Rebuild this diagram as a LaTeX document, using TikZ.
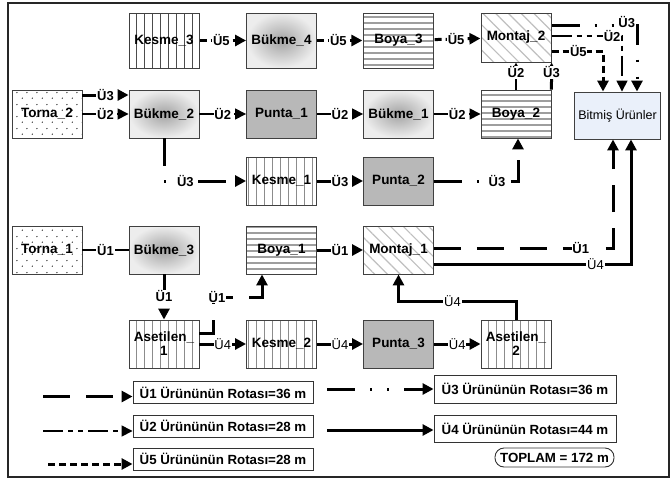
\documentclass[tikz,border=0pt]{standalone}
\usepackage{fontspec}
\setmainfont{Liberation Sans}
\usetikzlibrary{arrows.meta,patterns.meta,calc}

% sparse staggered dots for the lathe stations
\pgfdeclarepattern{
  name=sparsedots, type=uncolored,
  bottom left={\pgfpoint{0pt}{0pt}}, top right={\pgfpoint{10pt}{12pt}},
  tile size={\pgfpoint{10pt}{12pt}},
  code={\pgfpathcircle{\pgfpoint{2.5pt}{3pt}}{0.75pt}
        \pgfpathcircle{\pgfpoint{7.5pt}{9pt}}{0.75pt}\pgfusepath{fill}}
}

\tikzset{
  stn/.style={draw=black!75, line width=0.9pt, minimum width=70pt, minimum height=48pt,
    inner sep=0pt, align=center, font=\bfseries\fontsize{13.5}{14}\selectfont},
  kesme/.style={stn, pattern={Lines[angle=90,distance=8pt,line width=1pt]}, pattern color=black!45},
  boya/.style={stn, pattern={Lines[angle=0,distance=6pt,line width=2.2pt]}, pattern color=black!38},
  montaj/.style={stn, pattern={Lines[angle=-45,distance=9pt,line width=1.2pt]}, pattern color=black!25},
  bukme/.style={stn, inner color=black!36, outer color=black!7},
  punta/.style={stn, fill=black!28},
  torna/.style={stn, pattern=sparsedots, pattern color=black!85},
  bitmis/.style={draw=black!75, line width=0.9pt, minimum width=85pt, minimum height=47pt,
    fill={rgb,255:red,234;green,240;blue,250}, font=\fontsize{12.5}{14}\selectfont},
  lgbox/.style={draw=black!80, line width=0.9pt, fill=white, inner sep=0pt,
    font=\bfseries\fontsize{13.3}{14}\selectfont},
  lab/.style={fill=white, inner sep=0.8pt, font=\bfseries\fontsize{13}{13}\selectfont},
  labn/.style={fill=white, inner sep=0.8pt, font=\fontsize{13}{13}\selectfont},
  arr/.style={-{Triangle[length=11pt,width=11pt]}},
  sarr/.style={-{Triangle[length=5pt,width=5pt]}},
  u1/.style={line width=3pt, dash pattern=on 27pt off 16pt},
  u1thin/.style={line width=1.2pt},
  u2/.style={line width=1.5pt, dash pattern=on 20pt off 5pt on 5pt off 5pt on 5pt off 5pt},
  u3/.style={line width=3pt, dash pattern=on 28pt off 15pt on 2pt off 15pt on 2pt off 15pt},
  u4/.style={line width=3pt},
  u5/.style={line width=3pt, dash pattern=on 7pt off 4pt},
}

\begin{document}
\begin{tikzpicture}[x=1pt, y=-1pt]
\useasboundingbox (0,0) rectangle (672,485);
\draw[line width=1.5pt, black!85] (8,3) rectangle (669,477);

% stations
\node[kesme, minimum height=55pt, pattern color=black!70] (kesme3) at (164,40.5) {Kesme\_3};
\node[bukme, minimum height=55pt] (bukme4) at (281.5,40.5) {Bükme\_4};
\node[boya, minimum height=55pt] (boya3) at (398.5,40.5) {Boya\_3};
\node[montaj, minimum height=49pt] (montaj2) at (516,37.5) {Montaj\_2};

\node[torna] (torna2) at (47,114) {Torna\_2};
\node[bukme] (bukme2) at (164,114) {Bükme\_2};
\node[punta] (punta1) at (281.5,114) {Punta\_1};
\node[bukme] (bukme1) at (398.5,114) {Bükme\_1};
\node[boya] (boya2) at (516,114) {Boya\_2};
\node[bitmis] (bitmis) at (617.5,115.5) {Bitmiş Ürünler};

\node[kesme] (kesme1) at (281.5,181) {Kesme\_1};
\node[punta] (punta2) at (398.5,181) {Punta\_2};

\node[torna] (torna1) at (47,250) {Torna\_1};
\node[bukme] (bukme3) at (164,250) {Bükme\_3};
\node[boya] (boya1) at (281.5,250) {Boya\_1};
\node[montaj] (montaj1) at (398.5,250) {Montaj\_1};

\node[kesme] (asetilen1) at (164,344) {Asetilen\_\\1};
\node[kesme] (kesme2) at (281.5,344) {Kesme\_2};
\node[punta] (punta3) at (398.5,344) {Punta\_3};
\node[kesme] (asetilen2) at (516,344) {Asetilen\_\\2};

% route of product 5
\draw[u5,arr] (kesme3) -- node[lab,pos=0.47]{Ü5} (bukme4);
\draw[u5,arr] (bukme4) -- node[lab,pos=0.47]{Ü5} (boya3);
\draw[u5,arr] (boya3) -- node[lab,pos=0.47]{Ü5} (montaj2);
\draw[u5,arr] ([yshift=-13.5pt]montaj2.east) -| node[lab,pos=0.26]{Ü5} ([xshift=-14.5pt]bitmis.north);

% route of product 2
\draw[u2,arr] (torna2) -- node[lab]{Ü2} (bukme2);
\draw[u2,arr] (bukme2) -- node[lab]{Ü2} (punta1);
\draw[u2,arr] (punta1) -- node[lab]{Ü2} (bukme1);
\draw[u2,arr] (bukme1) -- node[lab]{Ü2} (boya2);
\draw[u2,sarr] (boya2.north) -- node[lab,pos=0.64]{Ü2} (montaj2.south);
\draw[u2,arr] ([yshift=1.5pt]montaj2.east) -| node[lab,pos=0.43]{Ü2} ([xshift=4.5pt]bitmis.north);

% route of product 3
\draw[u3,arr] ([yshift=19pt]torna2.east) -- node[lab]{Ü3} ([yshift=19pt]bukme2.west);
\draw[u3,arr] (bukme2.south) |- node[lab,pos=0.63]{Ü3} (kesme1.west);
\draw[u3,arr] (kesme1) -- node[lab]{Ü3} (punta2);
\draw[u3,arr] (punta2.east) -| node[lab,pos=0.375]{Ü3} ([xshift=2pt]boya2.south);
\draw[u3,sarr] (boya2.north east) -- node[lab,pos=0.64]{Ü3} (montaj2.south east);
\draw[u3,arr] ([yshift=12.5pt]montaj2.east) -| node[lab,pos=0.44,yshift=3pt]{Ü3} ([xshift=19.5pt]bitmis.north);

% route of product 1
\draw[u1thin] (torna1) -- node[lab]{Ü1} (bukme3);
\draw[u1,arr] (bukme3) -- node[lab,pos=0.48]{Ü1} (asetilen1);
\coordinate (u1turn) at (213,297);
\draw[u1,arr] ([yshift=11pt]asetilen1.east) -| (u1turn) -| ([xshift=-19.5pt]boya1.south);
\node[lab] at ([xshift=4pt]u1turn) {Ü1};
\draw[u1,arr] (boya1) -- node[lab]{Ü1} (montaj1);
\draw[u1,arr] ([yshift=2pt]montaj1.east) -| node[lab,pos=0.41]{Ü1} ([xshift=-4.5pt]bitmis.south);

% route of product 4
\draw[u4,arr] (asetilen1) -- node[labn]{Ü4} (kesme2);
\draw[u4,arr] (kesme2) -- node[labn]{Ü4} (punta3);
\draw[u4,arr] (punta3) -- node[labn]{Ü4} (asetilen2);
\draw[u4,arr] (asetilen2.north) -- ++(0,-18) -| node[labn,pos=0.27]{Ü4} (montaj1.south);
\draw[u4,arr] ([yshift=-14pt]montaj1.east) -| node[labn,pos=0.41]{Ü4} ([xshift=13.5pt]bitmis.south);

% legend
\node[lgbox, minimum width=180pt, minimum height=22pt] (lg1) at (223,392.5) {Ü1 Ürününün Rotası=36 m};
\node[lgbox, minimum width=180pt, minimum height=22pt] (lg2) at (223,426) {Ü2 Ürününün Rotası=28 m};
\node[lgbox, minimum width=180pt, minimum height=22pt] (lg5) at (223,459) {Ü5 Ürününün Rotası=28 m};
\node[lgbox, minimum width=182pt, minimum height=28pt] (lg3) at (525,389) {Ü3 Ürününün Rotası=36 m};
\node[lgbox, minimum width=182pt, minimum height=27pt] (lg4) at (525,428.5) {Ü4 Ürününün Rotası=44 m};
\node[lgbox, minimum width=119pt, minimum height=19pt, rounded corners=9pt] (toplam) at (554.5,457.5) {TOPLAM = 172 m};

\coordinate (l1) at (43,396.5);
\coordinate (l2) at (43,431);
\coordinate (l5) at (48,464);
\coordinate (l3) at (327,389);
\coordinate (l4) at (327,430);
\draw[u1,arr] (l1) -- (l1 -| lg1.west);
\draw[u2,arr] (l2) -- (l2 -| lg2.west);
\draw[u5,arr] (l5) -- (l5 -| lg5.west);
\draw[u3,arr] (l3) -- (l3 -| lg3.west);
\draw[u4,arr] (l4) -- (l4 -| lg4.west);
\end{tikzpicture}
\end{document}
